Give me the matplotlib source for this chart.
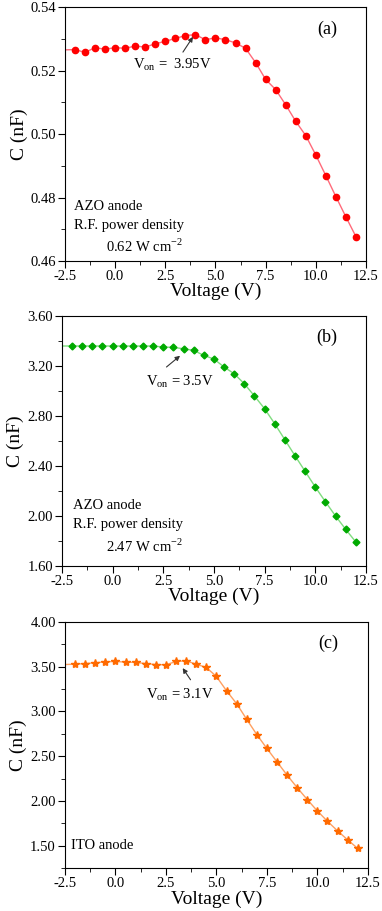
import numpy as np
import matplotlib
matplotlib.use("Agg")
from matplotlib import pyplot as plt
from matplotlib.ticker import MultipleLocator, FormatStrFormatter

plt.rcParams['font.family'] = ['Liberation Serif', 'DejaVu Serif']
plt.rcParams['mathtext.fontset'] = 'custom'
plt.rcParams['mathtext.rm'] = 'Liberation Serif'
plt.rcParams['axes.unicode_minus'] = False

# voltage sweep, -2.5 V point only carries the line to the axis edge
voltage = [-2.5, -2.0, -1.5, -1.0, -0.5, 0.0, 0.5, 1.0, 1.5, 2.0, 2.5, 3.0, 3.5, 4.0, 4.5,
           5.0, 5.5, 6.0, 6.5, 7.0, 7.5, 8.0, 8.5, 9.0, 9.5, 10.0, 10.5, 11.0, 11.5, 12.0]

# (a) AZO anode, 0.62 W cm-2
cap_a = [0.5265, 0.5266, 0.5257, 0.5272, 0.5267, 0.5272, 0.5270, 0.5277, 0.5274, 0.5284,
         0.5292, 0.5301, 0.5310, 0.5313, 0.5297, 0.5303, 0.5297, 0.5287, 0.5270, 0.5225,
         0.5172, 0.5140, 0.5092, 0.5040, 0.4995, 0.4934, 0.4869, 0.4803, 0.4739, 0.4677]
# (b) AZO anode, 2.47 W cm-2
cap_b = [3.358, 3.358, 3.358, 3.358, 3.358, 3.358, 3.358, 3.358, 3.358, 3.358,
         3.350, 3.347, 3.336, 3.323, 3.283, 3.254, 3.190, 3.136, 3.056, 2.958,
         2.856, 2.736, 2.608, 2.480, 2.355, 2.230, 2.112, 1.998, 1.891, 1.790]
# (c) ITO anode
cap_c = [3.522, 3.526, 3.533, 3.541, 3.552, 3.556, 3.549, 3.545, 3.533, 3.522,
         3.519, 3.556, 3.563, 3.526, 3.489, 3.389, 3.230, 3.086, 2.911, 2.741,
         2.586, 2.437, 2.289, 2.149, 2.016, 1.889, 1.774, 1.667, 1.567, 1.471]

fig = plt.figure(figsize=(3.82, 9.11), dpi=100)
ax_a = fig.add_axes([0.170, 0.7135, 0.788, 0.2788])
ax_b = fig.add_axes([0.162, 0.379, 0.796, 0.2744])
ax_c = fig.add_axes([0.170, 0.0469, 0.793, 0.2707])

panels = [
    (ax_a, cap_a, '#ff0000', '#ff6a7a', 'o', 4.5, (0.46, 0.54), 0.02, 0.01, '(a)'),
    (ax_b, cap_b, '#00aa00', '#7fdc7f', 'D', 3.5, (1.60, 3.60), 0.40, 0.20, '(b)'),
    (ax_c, cap_c, '#ff6a00', '#ffa060', '*', 6, (1.25, 4.00), 0.50, 0.25, '(c)'),
]

for ax, cap, mcol, lcol, mk, ms, ylim, major, minor, tag in panels:
    ax.plot(voltage, cap, '-', color=lcol, lw=1.0, marker=mk, ms=ms,
            mfc=mcol, mec=mcol, markevery=list(range(1, len(voltage))))
    ax.set_xlim(-2.5, 12.5)
    ax.set_ylim(*ylim)
    ax.xaxis.set_major_locator(MultipleLocator(2.5))
    ax.xaxis.set_minor_locator(MultipleLocator(1.25))
    ax.xaxis.set_major_formatter(FormatStrFormatter('%.1f'))
    ax.yaxis.set_major_locator(MultipleLocator(major))
    ax.yaxis.set_minor_locator(MultipleLocator(minor))
    ax.yaxis.set_major_formatter(FormatStrFormatter('%.2f'))
    ax.tick_params(which='both', direction='out', top=False, right=False, labelsize=10.5, pad=1.5)
    ax.tick_params(which='major', length=5)
    ax.tick_params(which='minor', length=3)
    for s in ax.spines.values():
        s.set_linewidth(0.8)
    ax.set_xlabel('Voltage (V)', fontsize=14, labelpad=0)
    ax.set_ylabel('C (nF)', fontsize=14, labelpad=2)
    ax.text(0.87, 0.913, tag, transform=ax.transAxes, fontsize=13, ha='center', va='center')

arrow = dict(arrowstyle='-|>', color='#333333', lw=0.8, mutation_scale=7, shrinkA=0, shrinkB=0)

ax_a.annotate('', xy=(3.88, 0.5306), xytext=(3.38, 0.5258), arrowprops=arrow)
ax_a.text(2.83, 0.5217, r'V$_{\mathrm{on}}$ =  3.95V', fontsize=10.5, ha='center', va='center')
ax_a.text(-2.05, 0.4773, 'AZO anode', fontsize=10.5, va='center')
ax_a.text(-2.05, 0.4713, 'R.F. power density', fontsize=10.5, va='center')
ax_a.text(-0.46, 0.4645, r'0.62 W cm$^{-2}$', fontsize=10.5, va='center')

ax_b.annotate('', xy=(3.33, 3.28), xytext=(2.66, 3.19), arrowprops=arrow)
ax_b.text(3.31, 3.072, r'V$_{\mathrm{on}}$ = 3.5V', fontsize=10.5, ha='center', va='center')
ax_b.text(-1.95, 2.078, 'AZO anode', fontsize=10.5, va='center')
ax_b.text(-1.95, 1.933, 'R.F. power density', fontsize=10.5, va='center')
ax_b.text(-0.34, 1.752, r'2.47 W cm$^{-2}$', fontsize=10.5, va='center')

ax_c.annotate('', xy=(3.33, 3.482), xytext=(3.72, 3.352), arrowprops=arrow)
ax_c.text(3.19, 3.185, r'V$_{\mathrm{on}}$ = 3.1V', fontsize=10.5, ha='center', va='center')
ax_c.text(-2.22, 1.50, 'ITO anode', fontsize=10.5, va='center')

plt.savefig('out.png', dpi=100)
plt.close()
